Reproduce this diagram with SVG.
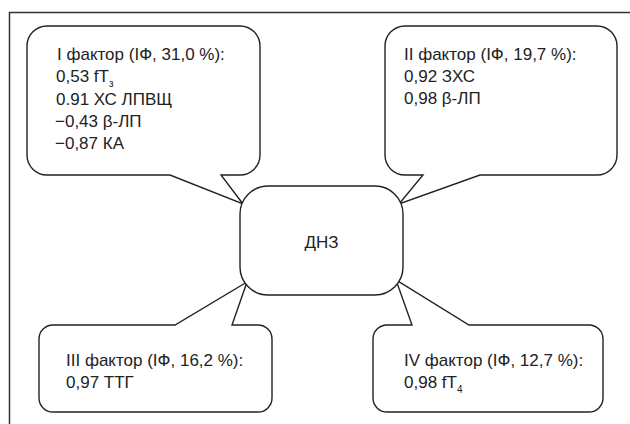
<svg xmlns="http://www.w3.org/2000/svg" width="630" height="424" viewBox="0 0 630 424">
<style>
.shape{fill:#fff;stroke:#222;stroke-width:1.4;stroke-linejoin:miter}
.frame{fill:none;stroke:#333;stroke-width:1.5}
text{font-family:"Liberation Sans",Arial,sans-serif;font-size:17px;fill:#222}
.sub{font-size:10px}
</style>
<rect width="630" height="424" fill="#fff"/>
<path class="frame" d="M9.5,424 V12.5 H630"/>
<g id="connectors">
</g>
<g id="factor1">
<path class="shape" d="M47,26 H240 A20,20 0 0 1 260,46 V155 A20,20 0 0 1 240,175 H221 L243,204 L170,175 H47 A20,20 0 0 1 27,155 V46 A20,20 0 0 1 47,26 Z"/>
<text x="57" y="60">I фактор (IФ, 31,0 %):</text>
<text x="56" y="82">0,53 fT<tspan class="sub" dy="5">з</tspan></text>
<text x="56" y="105">0.91 ХС ЛПВЩ</text>
<text x="55" y="127">−0,43 β-ЛП</text>
<text x="55" y="149">−0,87 КА</text>
</g>
<g id="factor2">
<path class="shape" d="M405,26 H597 A20,20 0 0 1 617,46 V155 A20,20 0 0 1 597,175 H480 L399,204 L423,175 H405 A20,20 0 0 1 385,155 V46 A20,20 0 0 1 405,26 Z"/>
<text x="404" y="60">II фактор (IФ, 19,7 %):</text>
<text x="404" y="82">0,92 ЗХС</text>
<text x="404" y="104">0,98 β-ЛП</text>
</g>
<g id="factor3">
<path class="shape" d="M53,325 H175 L247,282 L232,325 H258 A14,14 0 0 1 272,339 V398 A14,14 0 0 1 258,412 H53 A14,14 0 0 1 39,398 V339 A14,14 0 0 1 53,325 Z"/>
<text x="66" y="366">III фактор (IФ, 16,2 %):</text>
<text x="66" y="388">0,97 ТТГ</text>
</g>
<g id="factor4">
<path class="shape" d="M387,325 H412 L396,280 L469,325 H589 A14,14 0 0 1 603,339 V398 A14,14 0 0 1 589,412 H387 A14,14 0 0 1 373,398 V339 A14,14 0 0 1 387,325 Z"/>
<text x="404" y="366">IV фактор (IФ, 12,7 %):</text>
<text x="404" y="388">0,98 fT<tspan class="sub" dy="5">4</tspan></text>
</g>
<g id="dnz">
<rect class="shape" x="240" y="186" width="163" height="109" rx="28" ry="28"/>
<text x="321.5" y="248" text-anchor="middle">ДНЗ</text>
</g>
</svg>
